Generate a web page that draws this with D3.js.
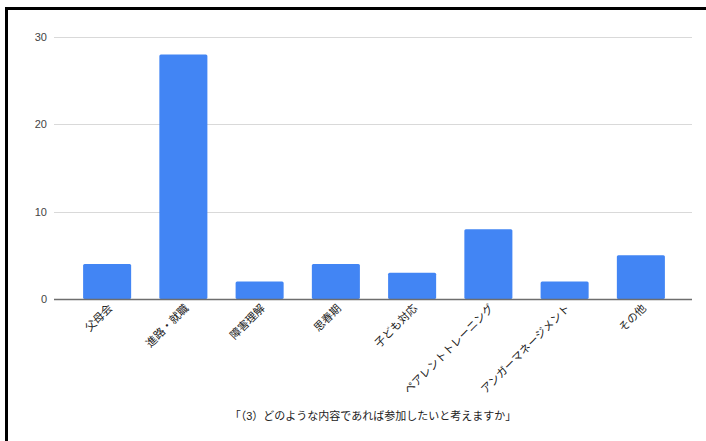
<!DOCTYPE html>
<html><head><meta charset="utf-8">
<script src="https://cdn.jsdelivr.net/npm/d3@7"></script>
<style>
html,body{margin:0;padding:0;background:#fff;}
svg{display:block;}
</style>
</head><body>
<svg id="chart" width="706" height="441"></svg>
<script>
const categories = ["父母会","進路・就職","障害理解","思春期","子ども対応","ペアレントトレーニング","アンガーマネージメント","その他"];
const values = [4, 28, 2, 4, 3, 8, 2, 5];
const yTicks = [0, 10, 20, 30];
const title = "「（3）どのような内容であれば参加したいと考えますか」";

const svg = d3.select("#chart");
const font = "'Liberation Sans', Arial, 'Noto Sans CJK JP', sans-serif";

// frame
svg.append("line").attr("x1",6.5).attr("x2",6.5).attr("y1",8).attr("y2",441).attr("stroke","#000").attr("stroke-width",3);
svg.append("line").attr("x1",5).attr("x2",706).attr("y1",8.5).attr("y2",8.5).attr("stroke","#000").attr("stroke-width",3);

const gridX0 = 54, gridX1 = 692;
const x = d3.scaleBand().domain(categories).range([69, 679]).paddingInner(0.37).paddingOuter(0.185);
const y = d3.scaleLinear().domain([0, 30]).range([299, 37]);

// gridlines
svg.append("g").selectAll("line").data(yTicks.filter(d=>d>0)).join("line")
  .attr("x1",gridX0).attr("x2",gridX1)
  .attr("y1",d=>Math.round(y(d))+0.5).attr("y2",d=>Math.round(y(d))+0.5)
  .attr("stroke","#d9d9d9").attr("stroke-width",1);

// y labels
svg.append("g").selectAll("text").data(yTicks).join("text")
  .attr("x",47).attr("y",d=>y(d)+4)
  .attr("text-anchor","end").attr("font-family",font).attr("font-size",11).attr("fill","#444")
  .text(d=>d);

// bars
svg.append("g").selectAll("rect").data(values).join("rect")
  .attr("x",(d,i)=>x(categories[i]))
  .attr("width",x.bandwidth())
  .attr("y",d=>y(d))
  .attr("height",d=>y(0)-y(d))
  .attr("rx",1.5)
  .attr("fill","#4285f4");

// baseline
svg.append("line").attr("x1",gridX0).attr("x2",gridX1).attr("y1",299.5).attr("y2",299.5)
  .attr("stroke","#6e6e6e").attr("stroke-width",1.3);

// x labels
svg.append("g").selectAll("text").data(categories).join("text")
  .attr("transform",d=>`translate(${x(d)+x.bandwidth()/2+6},${309}) rotate(-45)`)
  .attr("text-anchor","end").attr("font-family",font).attr("font-size",11).attr("fill","#222")
  .text(d=>d);

// title
svg.append("text").attr("x",373).attr("y",420).attr("text-anchor","middle")
  .attr("font-family",font).attr("font-size",11).attr("fill","#222").text(title);
</script>
</body></html>
